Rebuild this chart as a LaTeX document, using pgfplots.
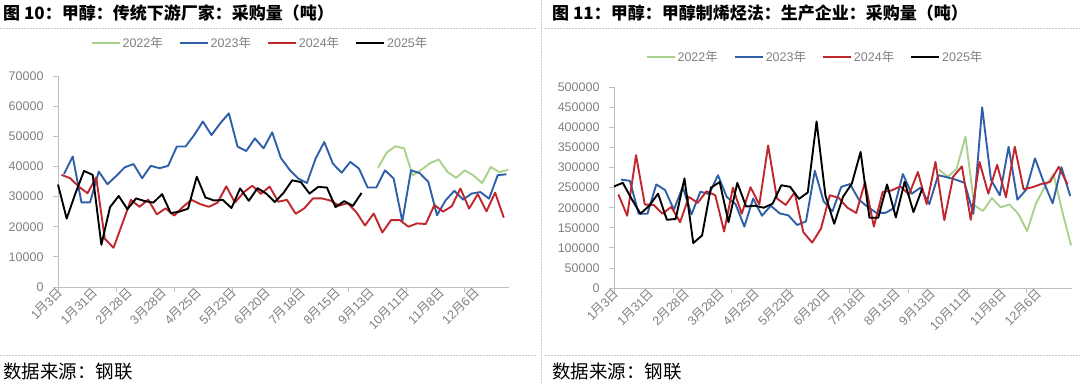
\documentclass[border=0pt]{standalone}
\usepackage{pgfplots}
\usepackage{pgfplotstable}
\pgfplotsset{compat=1.18}
\usepackage{fontspec}
\setmainfont{Liberation Sans}
\newfontfamily\cjk{Noto Sans CJK SC}
\definecolor{c22}{HTML}{A9D18E}
\definecolor{c23}{HTML}{2F5FA8}
\definecolor{c24}{HTML}{C0272D}
\definecolor{c25}{HTML}{000000}
\definecolor{tk}{HTML}{808080}
\definecolor{axl}{HTML}{BFBFBF}
\definecolor{sep}{HTML}{CCCCCC}
\newcommand\md[2]{#1{\cjk 月}#2{\cjk 日}}
\newcommand\fs[1]{\fontsize{#1}{#1}\selectfont}

% ---------- left panel data ----------
\pgfplotstableread{
w v
0 34000
1 22700
2 31000
3 38500
4 37200
5 14000
6 26500
7 30200
8 25800
9 29400
10 28500
11 28000
12 30800
13 24500
14 25000
15 26000
16 36600
17 29700
18 28700
19 28900
20 26200
21 32700
22 28600
23 32800
24 31000
25 28200
26 31200
27 35400
28 34800
29 31000
30 33200
31 33000
32 26500
33 28500
34 26900
35 31200
}\LblackL
\pgfplotstableread{
w v
0 37200
1 36100
2 33300
3 31100
4 36400
5 16000
6 13000
7 20900
8 28900
9 26600
10 29000
11 24100
12 26100
13 23700
14 26600
15 28900
16 27500
17 26600
18 28000
19 33400
20 28000
21 31400
22 33600
23 30900
24 33300
25 28300
26 28900
27 24300
28 26100
29 29400
30 29400
31 28700
32 27000
33 27800
34 24800
35 20400
36 24400
37 18100
38 22200
39 22200
40 20000
41 21100
42 20900
43 27200
44 25000
45 26800
46 32700
47 26000
48 30800
49 25100
50 31300
51 23000
}\LredL
\pgfplotstableread{
w v
0 37500
1 43300
2 28100
3 28100
4 38300
5 34100
6 36800
7 39700
8 40800
9 36100
10 40200
11 39400
12 40200
13 46600
14 46600
15 50400
16 54900
17 50400
18 54300
19 57600
20 46600
21 45100
22 49300
23 46000
24 51300
25 42800
26 38900
27 36000
28 34500
29 42600
30 48100
31 40900
32 37900
33 41500
34 39300
35 33000
36 33000
37 38700
38 36000
39 21800
40 38700
41 37800
42 34900
43 23800
44 28800
45 31900
46 29000
47 31000
48 31500
49 29300
50 37100
51 37400
}\LblueL
\pgfplotstableread{
w v
36 39600
37 44600
38 46700
39 46000
40 37000
41 38900
42 41100
43 42300
44 38200
45 36200
46 38700
47 37000
48 34500
49 39800
50 38100
51 38900
}\LgreenL
% ---------- right panel data ----------
\pgfplotstableread{
w v
0 253000
1 262000
2 222000
3 185000
4 205000
5 235000
6 170000
7 172000
8 273000
9 112000
10 131000
11 250000
12 264000
13 164000
14 262000
15 203000
16 205000
17 200000
18 210000
19 256000
20 252000
21 222000
22 238000
23 415000
24 231000
25 160000
26 227000
27 260000
28 339000
29 175000
30 175000
31 258000
32 176000
33 265000
34 189000
35 248000
}\RblackL
\pgfplotstableread{
w v
0 233000
1 180000
2 331000
3 208000
4 207000
5 185000
6 202000
7 164000
8 227000
9 212000
10 241000
11 231000
12 141000
13 250000
14 185000
15 251000
16 208000
17 355000
18 223000
19 207000
20 238000
21 139000
22 113000
23 148000
24 231000
25 225000
26 200000
27 187000
28 264000
29 153000
30 239000
31 243000
32 253000
33 233000
34 289000
35 209000
36 314000
37 169000
38 277000
39 303000
40 170000
41 314000
42 235000
43 307000
44 226000
45 352000
46 246000
47 251000
48 259000
49 264000
50 302000
51 258000
}\RredL
\pgfplotstableread{
w v
0 270000
1 267000
2 185000
3 185000
4 258000
5 244000
6 195000
7 252000
8 183000
9 240000
10 234000
11 281000
12 227000
13 209000
14 153000
15 223000
16 180000
17 205000
18 186000
19 181000
20 157000
21 166000
22 292000
23 216000
24 191000
25 252000
26 259000
27 220000
28 202000
29 187000
30 187000
31 199000
32 284000
33 235000
34 250000
35 209000
36 281000
37 276000
38 270000
39 262000
40 185000
41 450000
42 270000
43 231000
44 352000
45 220000
46 245000
47 323000
48 263000
49 211000
50 301000
51 229000
}\RblueL
\pgfplotstableread{
w v
36 295000
37 277000
38 297000
39 377000
40 206000
41 192000
42 224000
43 201000
44 208000
45 185000
46 142000
47 210000
48 252000
49 284000
50 190000
51 106000
}\RgreenL

\pgfplotsset{
  panel/.style={
    scale only axis,
    axis x line*=bottom, axis y line*=left,
    axis line style={draw=axl, line width=0.8bp},
    xmin=0, xmax=52, ymin=0,
    xtick={0,6.69,13.38,20.07,26.76,33.45,40.14,46.83},
    xticklabels={},
    extra x ticks={0,4,8,12,16,20,24,28,32,36,40,44,48},
    extra x tick labels={\md{1}{3},\md{1}{31},\md{2}{28},\md{3}{28},\md{4}{25},\md{5}{23},\md{6}{20},\md{7}{18},\md{8}{15},\md{9}{13},\md{10}{11},\md{11}{8},\md{12}{6}},
    extra x tick style={major tick length=0pt},
    tick align=outside,
    major tick length=5bp,
    tick style={draw=axl, line width=0.8bp},
    x tick label style={rotate=45, anchor=east, font=\fs{12.5bp}, text=tk, yshift=-4bp, xshift=3bp},
    y tick label style={font=\fs{12.5bp}, text=tk, xshift=-6bp},
    yticklabel={\pgfmathprintnumber[fixed,precision=0,1000 sep={},assume math mode=true]{\tick}},
    scaled y ticks=false,
    clip=false,
    legend columns=4,
    legend style={draw=none, fill=none, font=\fs{12.5bp}, text=tk,
      /tikz/every even column/.append style={column sep=14bp},
      inner sep=0pt, anchor=center},
    legend cell align=left,
    legend image code/.code={\draw[#1] (0bp,0bp) -- (28bp,0bp);},
    every axis plot/.append style={line width=1.9bp, line join=round, mark=none},
  }
}

\begin{document}
\begin{tikzpicture}
\useasboundingbox (0,0) rectangle (1080bp,-384bp);
% separators
\draw[sep, line width=0.8bp, dash pattern=on 1.5bp off 1.5bp] (0,-28bp) -- (537bp,-28bp);
\draw[sep, line width=0.8bp, dash pattern=on 1.5bp off 1.5bp] (545bp,-28bp) -- (1080bp,-28bp);
\draw[sep, line width=0.8bp, dash pattern=on 1.5bp off 1.5bp] (0,-355bp) -- (537bp,-355bp);
\draw[sep, line width=0.8bp, dash pattern=on 1.5bp off 1.5bp] (545bp,-355bp) -- (1080bp,-355bp);
\draw[sep, line width=0.8bp, dash pattern=on 1.5bp off 1.5bp] (541bp,0) -- (541bp,-384bp);
% titles
\node[anchor=west, inner sep=0pt] at (3bp,-13bp) {\fs{17bp}\cjk\bfseries 图 10：甲醇：传统下游厂家：采购量（吨）};
\node[anchor=west, inner sep=0pt] at (552bp,-13bp) {\fs{17bp}\cjk\bfseries 图 11：甲醇：甲醇制烯烃法：生产企业：采购量（吨）};
\node[anchor=west, inner sep=0pt] at (3bp,-372bp) {\fs{18.5bp}\cjk 数据来源：钢联};
\node[anchor=west, inner sep=0pt] at (552bp,-372bp) {\fs{18.5bp}\cjk 数据来源：钢联};

\begin{axis}[panel,
  at={(58bp,-287bp)}, anchor=south west,
  width=451bp, height=211bp,
  ymax=70000, ytick={0,10000,...,70000},
  legend style={at={(0.448,1.156)}},
  ]
\addplot[c22] table[x expr=\thisrow{w}+0.9, y=v] {\LgreenL};
\addlegendentry{2022{\cjk 年}}
\addplot[c23] table[x expr=\thisrow{w}+0.7, y=v] {\LblueL};
\addlegendentry{2023{\cjk 年}}
\addplot[c24] table[x expr=\thisrow{w}+0.4, y=v] {\LredL};
\addlegendentry{2024{\cjk 年}}
\addplot[c25] table[x=w, y=v] {\LblackL};
\addlegendentry{2025{\cjk 年}}
\end{axis}

\begin{axis}[panel,
  at={(614bp,-288bp)}, anchor=south west,
  width=458bp, height=200.7bp,
  ymax=500000, ytick={0,50000,100000,150000,200000,250000,300000,350000,400000,450000,500000},
  legend style={at={(0.439,1.151)}},
  ]
\addplot[c22] table[x expr=\thisrow{w}+0.9, y=v] {\RgreenL};
\addlegendentry{2022{\cjk 年}}
\addplot[c23] table[x expr=\thisrow{w}+0.8, y=v] {\RblueL};
\addlegendentry{2023{\cjk 年}}
\addplot[c24] table[x expr=\thisrow{w}+0.5, y=v] {\RredL};
\addlegendentry{2024{\cjk 年}}
\addplot[c25] table[x=w, y=v] {\RblackL};
\addlegendentry{2025{\cjk 年}}
\end{axis}
\end{tikzpicture}
\end{document}
